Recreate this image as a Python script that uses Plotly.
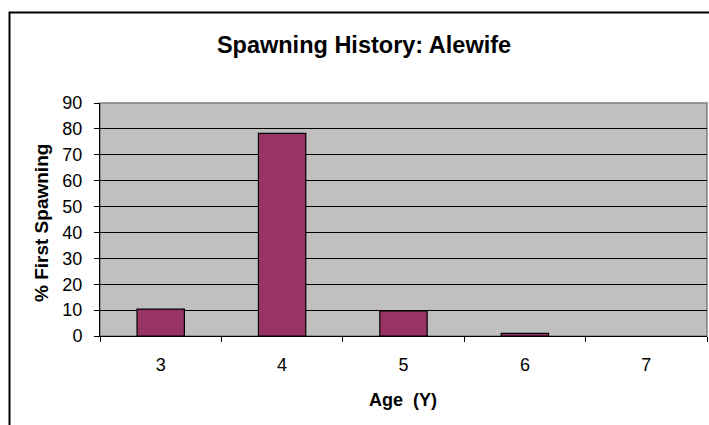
import plotly.graph_objects as go

ages = ["3", "4", "5", "6", "7"]
first_spawning_pct = [10.4, 78.3, 9.7, 1.0, 0.0]
y_ticks = [0, 10, 20, 30, 40, 50, 60, 70, 80, 90]

W, H = 709, 425
L, R, T, B = 100, 2, 103, 89
pw = W - L - R
ph = H - T - B

def px_x(px):
    return (px - L) / pw

def px_y(py):
    return (H - B - py) / ph

font = "Liberation Sans, Arial, sans-serif"

fig = go.Figure(go.Bar(
    x=ages, y=first_spawning_pct,
    marker=dict(color="#993366",
                line=dict(color="black", width=[1.2 if v > 0 else 0 for v in first_spawning_pct])),
    width=0.39,
))

fig.update_layout(
    width=W, height=H,
    margin=dict(l=L, r=R, t=T, b=B),
    paper_bgcolor="white", plot_bgcolor="#C0C0C0",
    showlegend=False,
    font=dict(family=font, size=18, color="black"),
    title=dict(text="<b>Spawning History: Alewife</b>", x=px_x(364), xref="paper",
               xanchor="center", y=1 - 45 / H, yref="container", yanchor="middle",
               font=dict(size=23.5, family=font, color="black")),
    xaxis=dict(type="category", range=[-0.5, 4.5], ticks="outside", tickson="boundaries",
               ticklen=5, tickcolor="black", showline=True, linecolor="black", linewidth=1,
               showgrid=False, tickfont=dict(size=18), ticklabelstandoff=12, fixedrange=True),
    yaxis=dict(range=[0, 90], tickvals=y_ticks, ticks="outside", ticklen=5, tickcolor="black",
               showline=True, linecolor="black", linewidth=1, showgrid=True, gridcolor="black",
               gridwidth=1, zeroline=False, tickfont=dict(size=18), ticklabelstandoff=8,
               fixedrange=True),
    shapes=[
        dict(type="rect", xref="paper", yref="paper", x0=0, x1=1, y0=0, y1=1,
             line=dict(color="#808080", width=1.5), layer="between"),
        dict(type="rect", xref="paper", yref="paper", x0=px_x(9.5), x1=px_x(760),
             y0=px_y(460), y1=px_y(12.5), line=dict(color="black", width=2), layer="above"),
    ],
    annotations=[
        dict(text="<b>% First Spawning</b>", xref="paper", yref="paper", x=px_x(41), y=px_y(223),
             textangle=-90, showarrow=False, xanchor="center", yanchor="middle",
             font=dict(size=19, family=font, color="black")),
        dict(text="<b>Age  (Y)</b>", xref="paper", yref="paper", x=px_x(403), y=px_y(400),
             showarrow=False, xanchor="center", yanchor="middle",
             font=dict(size=18, family=font, color="black")),
    ],
)

fig.write_html("out.html", config={"displayModeBar": False},
               post_script="document.body.style.margin='0';document.body.style.overflow='hidden';")
